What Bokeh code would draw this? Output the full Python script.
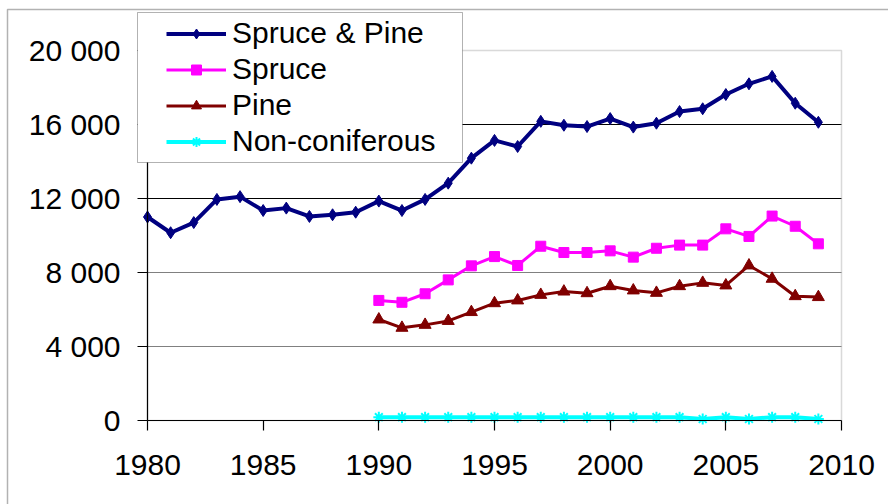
from bokeh.plotting import figure
from bokeh.models import (ColumnDataSource, Legend, LegendItem, BoxAnnotation,
                          FixedTicker, Range1d)
from bokeh.embed import file_html
from bokeh.resources import INLINE

# Annual harvest volumes by species group
years_all = list(range(1980, 2010))
spruce_pine = [11000, 10150, 10700, 11950, 12100, 11350, 11480, 11030, 11120, 11260,
               11860, 11350, 11950, 12830, 14180, 15140, 14810, 16170, 15960, 15890,
               16320, 15860, 16070, 16700, 16850, 17620, 18200, 18600, 17150, 16120]

years_split = list(range(1990, 2010))
spruce = [6490, 6390, 6850, 7600, 8360, 8860, 8380, 9420, 9080, 9080,
          9170, 8830, 9310, 9480, 9480, 10360, 9950, 11050, 10500, 9550]
pine = [5460, 5010, 5170, 5380, 5860, 6340, 6490, 6790, 6970, 6880,
        7260, 7030, 6900, 7260, 7440, 7300, 8380, 7660, 6720, 6670]
non_coniferous = [180, 180, 180, 180, 180, 180, 180, 180, 180, 180,
                  180, 180, 180, 180, 80, 180, 80, 180, 180, 80]

y_ticks = [0, 4000, 8000, 12000, 16000, 20000]
y_tick_labels = ["0", "4 000", "8 000", "12 000", "16 000", "20 000"]
x_ticks = [1980, 1985, 1990, 1995, 2000, 2005, 2010]
grid_values = [4000, 8000, 12000, 16000]
grid_colors = ["#808080", "#808080", "#000000", "#000000"]

FONT = "Liberation Sans"
W, H = 888, 504

# Plot area in pixels: x 147..841, y 50..420; the frame fills the whole canvas
# so the legend and chart border can sit outside the axes box.
px_left, px_right, px_top, px_bottom = 147, 841, 50, 420
x0, x1 = x_ticks[0], x_ticks[-1]
y0, y1 = y_ticks[0], y_ticks[-1]
xs = (x1 - x0) / (px_right - px_left)
ys = (y1 - y0) / (px_bottom - px_top)
x_range = Range1d(x0 - px_left * xs, x1 + (W - px_right) * xs)
y_range = Range1d(y0 - (H - px_bottom) * ys, y1 + px_top * ys)

p = figure(width=W, height=H, output_backend="svg", toolbar_location=None,
           x_range=x_range, y_range=y_range, min_border=0,
           background_fill_color="white", border_fill_color="white")
p.outline_line_color = None
p.grid.visible = False

# plot area box (gray top/right edges; the axes cover left/bottom)
p.add_layout(BoxAnnotation(left=x0, right=x1, bottom=y0, top=y1,
                           fill_alpha=0, line_color="#808080", line_width=1.5,
                           level="underlay"))

# horizontal gridlines
grid_src = ColumnDataSource(dict(
    x0=[x0] * len(grid_values), x1=[x1] * len(grid_values),
    y=grid_values, color=grid_colors))
p.segment(x0="x0", y0="y", x1="x1", y1="y", source=grid_src,
          line_color="color", line_width=1.2, level="underlay")

# axes pinned to the plot-area edges
p.yaxis.ticker = FixedTicker(ticks=y_ticks)
p.yaxis.major_label_overrides = {t: l for t, l in zip(y_ticks, y_tick_labels)}
p.yaxis.fixed_location = x0
p.yaxis.bounds = (y0, y1)
p.xaxis.ticker = FixedTicker(ticks=x_ticks)
p.xaxis.fixed_location = y0
p.xaxis.bounds = (x0, x1)
for ax in (p.xaxis[0], p.yaxis[0]):
    ax.axis_line_color = "black"
    ax.axis_line_width = 1.2
    ax.major_tick_line_color = "black"
    ax.major_tick_line_width = 1.2
    ax.major_tick_out = 10
    ax.major_tick_in = 0
    ax.minor_tick_line_color = None
    ax.major_label_text_font = FONT
    ax.major_label_text_font_size = "30px"
    ax.major_label_text_color = "black"
p.yaxis.major_label_standoff = 17
p.xaxis.major_label_standoff = 24

src_all = ColumnDataSource(dict(x=years_all, y=spruce_pine))
src_s = ColumnDataSource(dict(x=years_split, y=spruce))
src_p = ColumnDataSource(dict(x=years_split, y=pine))
src_n = ColumnDataSource(dict(x=years_split, y=non_coniferous))

l1 = p.line("x", "y", source=src_all, line_color="#000080", line_width=4)
m1 = p.scatter("x", "y", source=src_all, marker="diamond", size=12,
               fill_color="#000080", line_color="#000080")
l2 = p.line("x", "y", source=src_s, line_color="#FF00FF", line_width=3)
m2 = p.scatter("x", "y", source=src_s, marker="square", size=10,
               fill_color="#FF00FF", line_color="#FF00FF")
l3 = p.line("x", "y", source=src_p, line_color="#800000", line_width=3)
m3 = p.scatter("x", "y", source=src_p, marker="triangle", size=12,
               fill_color="#800000", line_color="#800000")
l4 = p.line("x", "y", source=src_n, line_color="#00FFFF", line_width=4)
m4 = p.scatter("x", "y", source=src_n, marker="asterisk", size=11,
               line_color="#00FFFF", line_width=2)

# outer chart border and legend frame
p.add_layout(BoxAnnotation(left=7, right=W + 20, top=9, bottom=H + 20,
                           left_units="canvas", right_units="canvas",
                           top_units="canvas", bottom_units="canvas",
                           fill_alpha=0, line_color="black", line_width=1.5,
                           level="overlay"))
p.add_layout(BoxAnnotation(left=137, right=462, top=12, bottom=162,
                           left_units="canvas", right_units="canvas",
                           top_units="canvas", bottom_units="canvas",
                           fill_color="white", fill_alpha=1,
                           line_color="black", line_width=1, level="annotation"))

legend = Legend(items=[
    LegendItem(label="Spruce & Pine", renderers=[l1, m1]),
    LegendItem(label="Spruce", renderers=[l2, m2]),
    LegendItem(label="Pine", renderers=[l3, m3]),
    LegendItem(label="Non-coniferous", renderers=[l4, m4]),
], location=(166, H - 159), padding=0, margin=0, spacing=0,
   glyph_width=60, glyph_height=25, label_height=36, label_standoff=6,
   label_text_font=FONT, label_text_font_size="30px", label_text_color="black",
   border_line_alpha=0, background_fill_alpha=0)
p.add_layout(legend, "center")

open("out.html", "w").write(file_html(p, INLINE))
